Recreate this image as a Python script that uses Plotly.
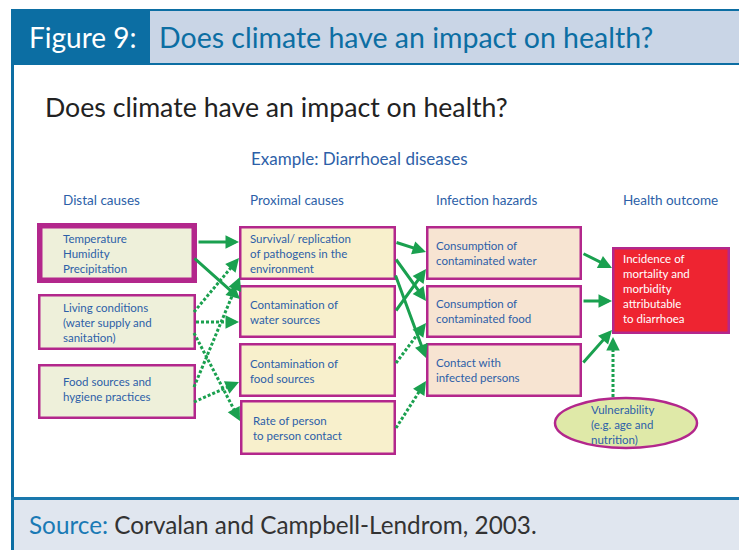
import plotly.graph_objects as go

# ---------------- data (text content) ----------------
header_label = "Figure 9:"
header_title = "Does climate have an impact on health?"
main_title = "Does climate have an impact on health?"
example_label = "Example: Diarrhoeal diseases"
column_headers = ["Distal causes", "Proximal causes", "Infection hazards", "Health outcome"]
distal_labels = ["Temperature<br>Humidity<br>Precipitation",
                 "Living conditions<br>(water supply and<br>sanitation)",
                 "Food sources and<br>hygiene practices"]
proximal_labels = ["Survival/ replication<br>of pathogens in the<br>environment",
                   "Contamination of<br>water sources",
                   "Contamination of<br>food sources",
                   "Rate of person<br>to person contact"]
hazard_labels = ["Consumption of<br>contaminated water",
                 "Consumption of<br>contaminated food",
                 "Contact with<br>infected persons"]
outcome_label = "Incidence of<br>mortality and<br>morbidity<br>attributable<br>to diarrhoea"
vulnerability_label = "Vulnerability<br>(e.g. age and<br>nutrition)"
source_prefix = "Source:"
source_text = "Corvalan and Campbell-Lendrom, 2003."

# ---------------- layout geometry (pixel space) ----------------
W, H = 739, 550
col_header_x = [61, 248, 434, 621]
col_header_y = 200
# boxes: x0, x1, y0, y1 (outer edges), border width
distal_boxes = [(37, 197, 223, 283, 5.5), (38, 196, 294, 350, 2.5), (38, 196, 364, 419, 2.5)]
distal_text = [(61, 253), (61, 322), (61, 388.5)]
proximal_boxes = [(239, 396, 226, 280, 2.5), (239, 396, 285, 338, 2.5),
                  (239, 396, 343, 397, 2.5), (240, 396, 400, 455, 2.5)]
proximal_text = [(248, 253), (248, 311.5), (248, 370.5), (251, 427.5)]
hazard_boxes = [(426, 582, 226, 280, 2.5), (426, 582, 285, 338, 2.5), (426, 582, 343, 397, 2.5)]
hazard_text = [(434, 252.5), (434, 311), (434, 369.5)]
outcome_box = (612, 730, 247, 334, 2.5)
outcome_text = (621, 288.5)
vuln_ellipse = (554, 698, 397, 449, 2.5)
vuln_text = (589, 424)

solid_arrows = [((197, 242), (239, 242)), ((193, 257), (240, 299)),
                ((395, 242), (426, 252)), ((395, 258), (426, 301)),
                ((395, 274), (426, 358)), ((395, 312), (426, 269)),
                ((582, 253), (612, 268)), ((582, 301), (612, 301)),
                ((582, 364), (612, 330))]
dotted_arrows = [((194, 312), (239, 258)), ((194, 387), (240, 277)),
                 ((196, 322), (239, 322)), ((194, 333), (240, 421)),
                 ((194, 402), (239, 382)), ((396, 363), (426, 323)),
                 ((396, 428), (426, 381)), ((613, 397), (613, 337))]

# ---------------- styles ----------------
DARK_BLUE = "#0c6ea3"
HEAD_FILL = "#c9d5e6"
FOOT_FILL = "#e0e6ef"
MAGENTA = "#b3278c"
TEXT_BLUE = "#2d5fa8"
GREEN = "#1aa04f"
FONT = "Lato"

fig = go.Figure()
shapes = []
ann = []

def rect(x0, x1, y0, y1, fill, line=None, lw=0):
    d = dict(type="rect", xref="x", yref="y", x0=x0, x1=x1, y0=y0, y1=y1,
             fillcolor=fill, layer="below")
    d["line"] = dict(color=line, width=lw) if line else dict(width=0)
    shapes.append(d)

def box(b, fill):
    x0, x1, y0, y1, lw = b
    h = lw / 2
    rect(x0 + h, x1 - h, y0 + h, y1 - h, fill, MAGENTA, lw)

# frame
rect(11, 150, 9, 65, DARK_BLUE)
rect(150, W, 9, 65, DARK_BLUE)
rect(150, W, 11, 63, HEAD_FILL)
rect(11, 14, 65, H, DARK_BLUE)
rect(11, W, 497, 500, "#1a78ad")
rect(14, W, 500, H, FOOT_FILL)

for b in distal_boxes:
    box(b, "#eef0da")
for b in proximal_boxes:
    box(b, "#f8f0cc")
for b in hazard_boxes:
    box(b, "#f7e4d2")
box(outcome_box, "#ee2431")
x0, x1, y0, y1, lw = vuln_ellipse
shapes.append(dict(type="circle", xref="x", yref="y", x0=x0 + 1, x1=x1 - 1, y0=y0 + 1, y1=y1 - 1,
                   fillcolor="#dfe9a8", line=dict(color=MAGENTA, width=lw), layer="below"))

def text(x, y, s, size, color, anchor="left"):
    ann.append(dict(x=x, y=y, xref="x", yref="y", text=s, showarrow=False,
                    xanchor=anchor, yanchor="middle", align="left",
                    font=dict(family=FONT, size=size, color=color)))

text(27, 37, header_label, 28, "white")
text(157, 37, header_title, 28.5, DARK_BLUE)
text(43, 107, main_title, 26.7, "#222222")
text(359, 158, example_label, 17, TEXT_BLUE, anchor="center")
for x, s in zip(col_header_x, column_headers):
    text(x, col_header_y, s, 13.5, TEXT_BLUE)
for (x, y), s in zip(distal_text, distal_labels):
    text(x, y, s, 11.5, TEXT_BLUE)
for (x, y), s in zip(proximal_text, proximal_labels):
    text(x, y, s, 11.5, TEXT_BLUE)
for (x, y), s in zip(hazard_text, hazard_labels):
    text(x, y, s, 11.5, TEXT_BLUE)
text(outcome_text[0], outcome_text[1], outcome_label, 11.5, "white")
text(vuln_text[0], vuln_text[1], vulnerability_label, 11.5, TEXT_BLUE)
ann.append(dict(x=27, y=524, xref="x", yref="y", showarrow=False, xanchor="left", yanchor="middle",
                text=f"<span style='color:#1a7ab5'>{source_prefix}</span> {source_text}",
                font=dict(family=FONT, size=24.3, color="#333333")))

def arrow(tail, head):
    ann.append(dict(x=head[0], y=head[1], ax=tail[0], ay=tail[1], xref="x", yref="y",
                    axref="x", ayref="y", text="", showarrow=True, arrowhead=2,
                    arrowsize=0.9, arrowwidth=3, arrowcolor=GREEN, standoff=0))

for t, h in solid_arrows:
    arrow(t, h)

for t, h in dotted_arrows:
    dx, dy = h[0] - t[0], h[1] - t[1]
    L = (dx * dx + dy * dy) ** 0.5
    ux, uy = dx / L, dy / L
    fig.add_trace(go.Scatter(x=[t[0], h[0] - ux * 5], y=[t[1], h[1] - uy * 5], mode="lines",
                             line=dict(color=GREEN, width=3, dash="3px,2px"),
                             hoverinfo="skip", showlegend=False))
    arrow((h[0] - ux * 6, h[1] - uy * 6), h)

fig.update_layout(width=W, height=H, margin=dict(l=0, r=0, t=0, b=0),
                  paper_bgcolor="white", plot_bgcolor="white",
                  xaxis=dict(range=[0, W], visible=False, fixedrange=True),
                  yaxis=dict(range=[H, 0], visible=False, fixedrange=True),
                  shapes=shapes, annotations=ann, showlegend=False)
fig.write_html("out.html", config={"displayModeBar": False},
               post_script="document.body.style.margin='0';")
